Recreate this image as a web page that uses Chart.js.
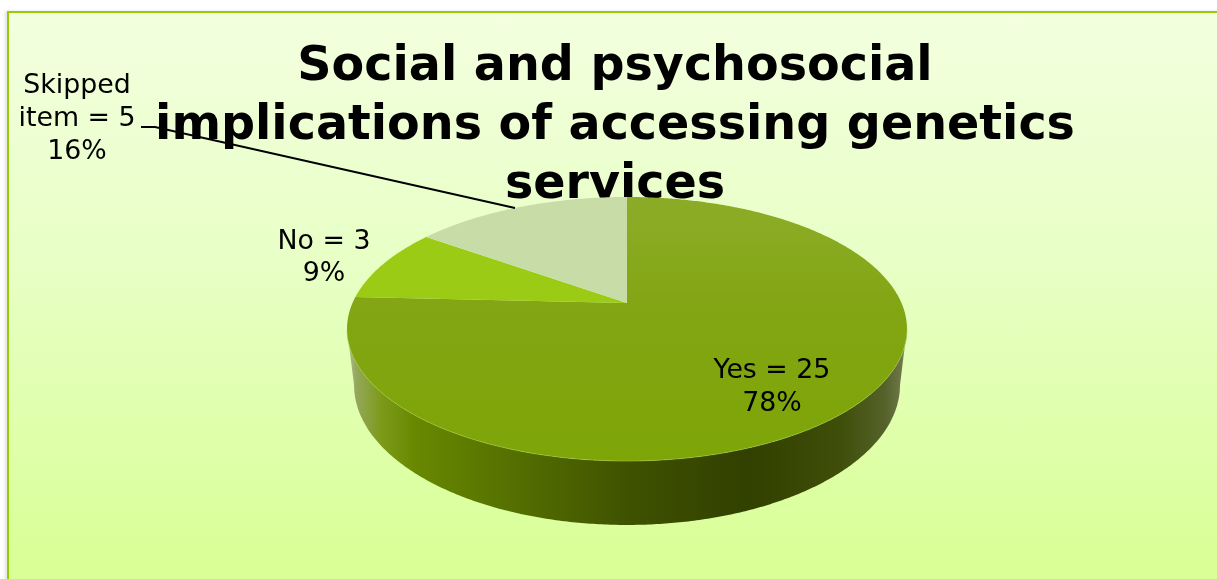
<!DOCTYPE html>
<html>
<head>
<meta charset="utf-8">
<title>Genetics services survey</title>
<script src="https://cdn.jsdelivr.net/npm/chart.js@4"></script>
<style>
  html, body { margin: 0; height: 100%; background: #fff; overflow: hidden; }
  #panel {
    position: absolute; left: 7px; top: 11px; width: 1300px; height: 620px;
    box-sizing: border-box;
    border: 2px solid #99cc00;
    box-shadow: -2px 0 3px rgba(0, 0, 0, 0.12);
    background: linear-gradient(#f3ffdf 0%, #e8ffc6 40%, #d9ff96 90%);
  }
  #pie { position: absolute; left: 0; top: 0; }
</style>
</head>
<body>
<div id="panel"></div>
<canvas id="pie" width="1230" height="579"></canvas>
<script>
const categories = ["Yes", "No", "Skipped item"];
const counts = [25, 3, 5];
const percents = [78, 9, 16];
const titleLines = ["Social and psychosocial", "implications of accessing genetics", "services"];

const colorNo = "#9ccb16";
const colorSkipped = "#c8dca8";

// tilted disc: apex sits above the middle of the ellipse, k is the perspective
const disc = { x: 627, y: 303, a: 274.5, b: 126.9, k: 0.197, midY: 329, lowY: 385, lowX: 0.975, lowB: 1.06 };

function project(angle) {
  const d = 1 - disc.k * Math.sin(angle);
  return [disc.x + disc.a * Math.cos(angle) / d, disc.y + disc.b * Math.sin(angle) / d];
}

function faceFill(ctx, index) {
  if (index === 1) return colorNo;
  if (index === 2) return colorSkipped;
  const g = ctx.createLinearGradient(0, 197, 0, 461);
  g.addColorStop(0, "#8cac28");
  g.addColorStop(0.45, "#82a512");
  g.addColorStop(1, "#7ea508");
  return g;
}

function sideFill(ctx) {
  const g = ctx.createLinearGradient(348, 0, 907, 0);
  g.addColorStop(0, "#b0ba90");
  g.addColorStop(0.015, "#94a85a");
  g.addColorStop(0.06, "#7c9a18");
  g.addColorStop(0.12, "#688800");
  g.addColorStop(0.3, "#546f00");
  g.addColorStop(0.5, "#3f5200");
  g.addColorStop(0.72, "#324000");
  g.addColorStop(0.88, "#3f4e08");
  g.addColorStop(0.96, "#54622a");
  g.addColorStop(0.99, "#6e7648");
  g.addColorStop(1, "#a8ac98");
  return g;
}

// Arc element that keeps the angles worked out by the controller but paints a 3D slice
class Arc3D extends Chart.ArcElement {
  static id = "arc3d";
  static defaults = Chart.ArcElement.defaults;

  draw(ctx) {
    const step = Math.PI / 360;
    const edge = Math.asin(disc.k);
    const from = Math.max(this.startAngle, edge);
    const to = Math.min(this.endAngle, Math.PI - edge);

    // front wall of the disc
    if (to > from) {
      const upper = [];
      for (let t = from; t < to; t += step) upper.push(project(t));
      upper.push(project(to));
      ctx.beginPath();
      upper.forEach(p => ctx.lineTo(p[0], p[1]));
      upper.reverse().forEach(p => {
        ctx.lineTo(disc.x + (p[0] - disc.x) * disc.lowX, disc.lowY + (p[1] - disc.midY) * disc.lowB);
      });
      ctx.closePath();
      ctx.fillStyle = sideFill(ctx);
      ctx.fill();
    }

    // top face
    ctx.beginPath();
    ctx.moveTo(disc.x, disc.y);
    for (let t = this.startAngle; t < this.endAngle; t += step) {
      const p = project(t);
      ctx.lineTo(p[0], p[1]);
    }
    const last = project(this.endAngle);
    ctx.lineTo(last[0], last[1]);
    ctx.closePath();
    ctx.fillStyle = faceFill(ctx, this.$context.dataIndex);
    ctx.fill();

    // thin highlight along the front rim
    if (to > from) {
      ctx.beginPath();
      for (let t = from; t < to; t += step) {
        const p = project(t);
        ctx.lineTo(p[0], p[1]);
      }
      ctx.strokeStyle = "rgba(170, 205, 70, 0.55)";
      ctx.lineWidth = 1;
      ctx.stroke();
    }
  }
}

class Pie3D extends Chart.PieController {
  static id = "pie3d";
  static defaults = { dataElementType: "arc3d" };
}

Chart.register(Arc3D, Pie3D);

// text of the slice labels plus the leader line of the last one
const labelLines = [
  { x: 772, y: [371, 404], text: [`${categories[0]} = ${counts[0]}`, `${percents[0]}%`] },
  { x: 324, y: [242, 274], text: [`${categories[1]} = ${counts[1]}`, `${percents[1]}%`] },
  { x: 77, y: [86, 119, 152], text: ["Skipped", `item = ${counts[2]}`, `${percents[2]}%`] }
];

const sliceLabels = {
  id: "sliceLabels",
  afterDatasetsDraw(chart) {
    const ctx = chart.ctx;
    ctx.save();
    ctx.fillStyle = "#000";
    ctx.font = '26.8px "DejaVu Sans"';
    ctx.textAlign = "center";
    ctx.textBaseline = "middle";
    labelLines.forEach(l => {
      l.text.forEach((s, i) => ctx.fillText(s, l.x, l.y[i]));
    });
    ctx.beginPath();
    ctx.moveTo(141, 127);
    ctx.lineTo(155, 127);
    ctx.lineTo(515, 208);
    ctx.strokeStyle = "#000";
    ctx.lineWidth = 1.8;
    ctx.stroke();
    ctx.restore();
  }
};

new Chart(document.getElementById("pie"), {
  type: "pie3d",
  data: {
    labels: categories,
    datasets: [{ data: counts }]
  },
  options: {
    responsive: false,
    animation: false,
    events: [],
    plugins: {
      legend: { display: false },
      tooltip: { enabled: false },
      title: {
        display: true,
        text: titleLines,
        color: "#000",
        padding: { top: 38, bottom: 0 },
        font: { family: '"DejaVu Sans"', size: 47.6, weight: "bold", lineHeight: 1.24 }
      }
    }
  },
  plugins: [sliceLabels]
});
</script>
</body>
</html>
